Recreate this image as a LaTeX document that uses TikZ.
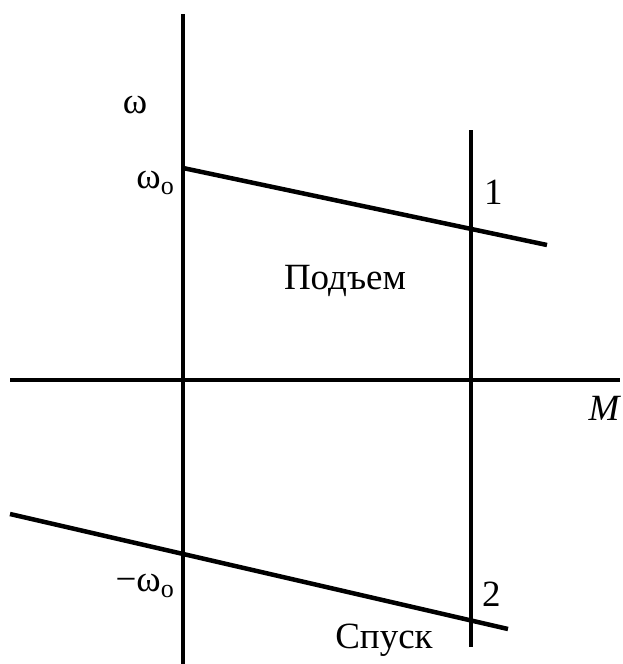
\documentclass[tikz,border=0pt]{standalone}
\usepackage{fontspec}
\setmainfont{Liberation Serif}
\newcommand{\subo}{\raisebox{-0.17em}{\fontsize{26}{28}\selectfont o}}
\begin{document}
\begin{tikzpicture}[x=1pt,y=-1pt,
  ln/.style={line width=4.5pt},
  lbl/.style={font=\fontsize{37}{40}\selectfont, inner sep=0pt}]
\useasboundingbox (0,0) rectangle (622,664);
% axes
\coordinate (yt) at (183,14);
\coordinate (yb) at (183,664);
\coordinate (xl) at (10,380);
\coordinate (xr) at (620,380);
\draw[ln] (yt) -- (yb);
\draw[ln] (xl) -- (xr);
% vertical line
\coordinate (vt) at (471,130);
\coordinate (vb) at (471,647);
\draw[ln] (vt) -- (vb);
% characteristics
\coordinate (a1) at (183,168);
\coordinate (a2) at (547,245);
\draw[ln] (a1) -- (a2);
\coordinate (b1) at (10,514);
\coordinate (b2) at (508,629);
\draw[ln] (b1) -- (b2);
% labels
\node[lbl] (w) at (135,105) {ω};
\node[lbl, anchor=base east] (w0) at (174,188) {ω\subo};
\node[lbl, anchor=base east] (mw0) at (174,591) {−ω\subo};
\node[lbl, anchor=base west] (one) at (484,204) {1};
\node[lbl, anchor=base west] (two) at (482,606) {2};
\node[lbl] (up) at (345,281) {Подъем};
\node[lbl] (down) at (384,640) {Спуск};
\node[lbl, anchor=base] (M) at (604,420) {\itshape M};
\end{tikzpicture}
\end{document}
